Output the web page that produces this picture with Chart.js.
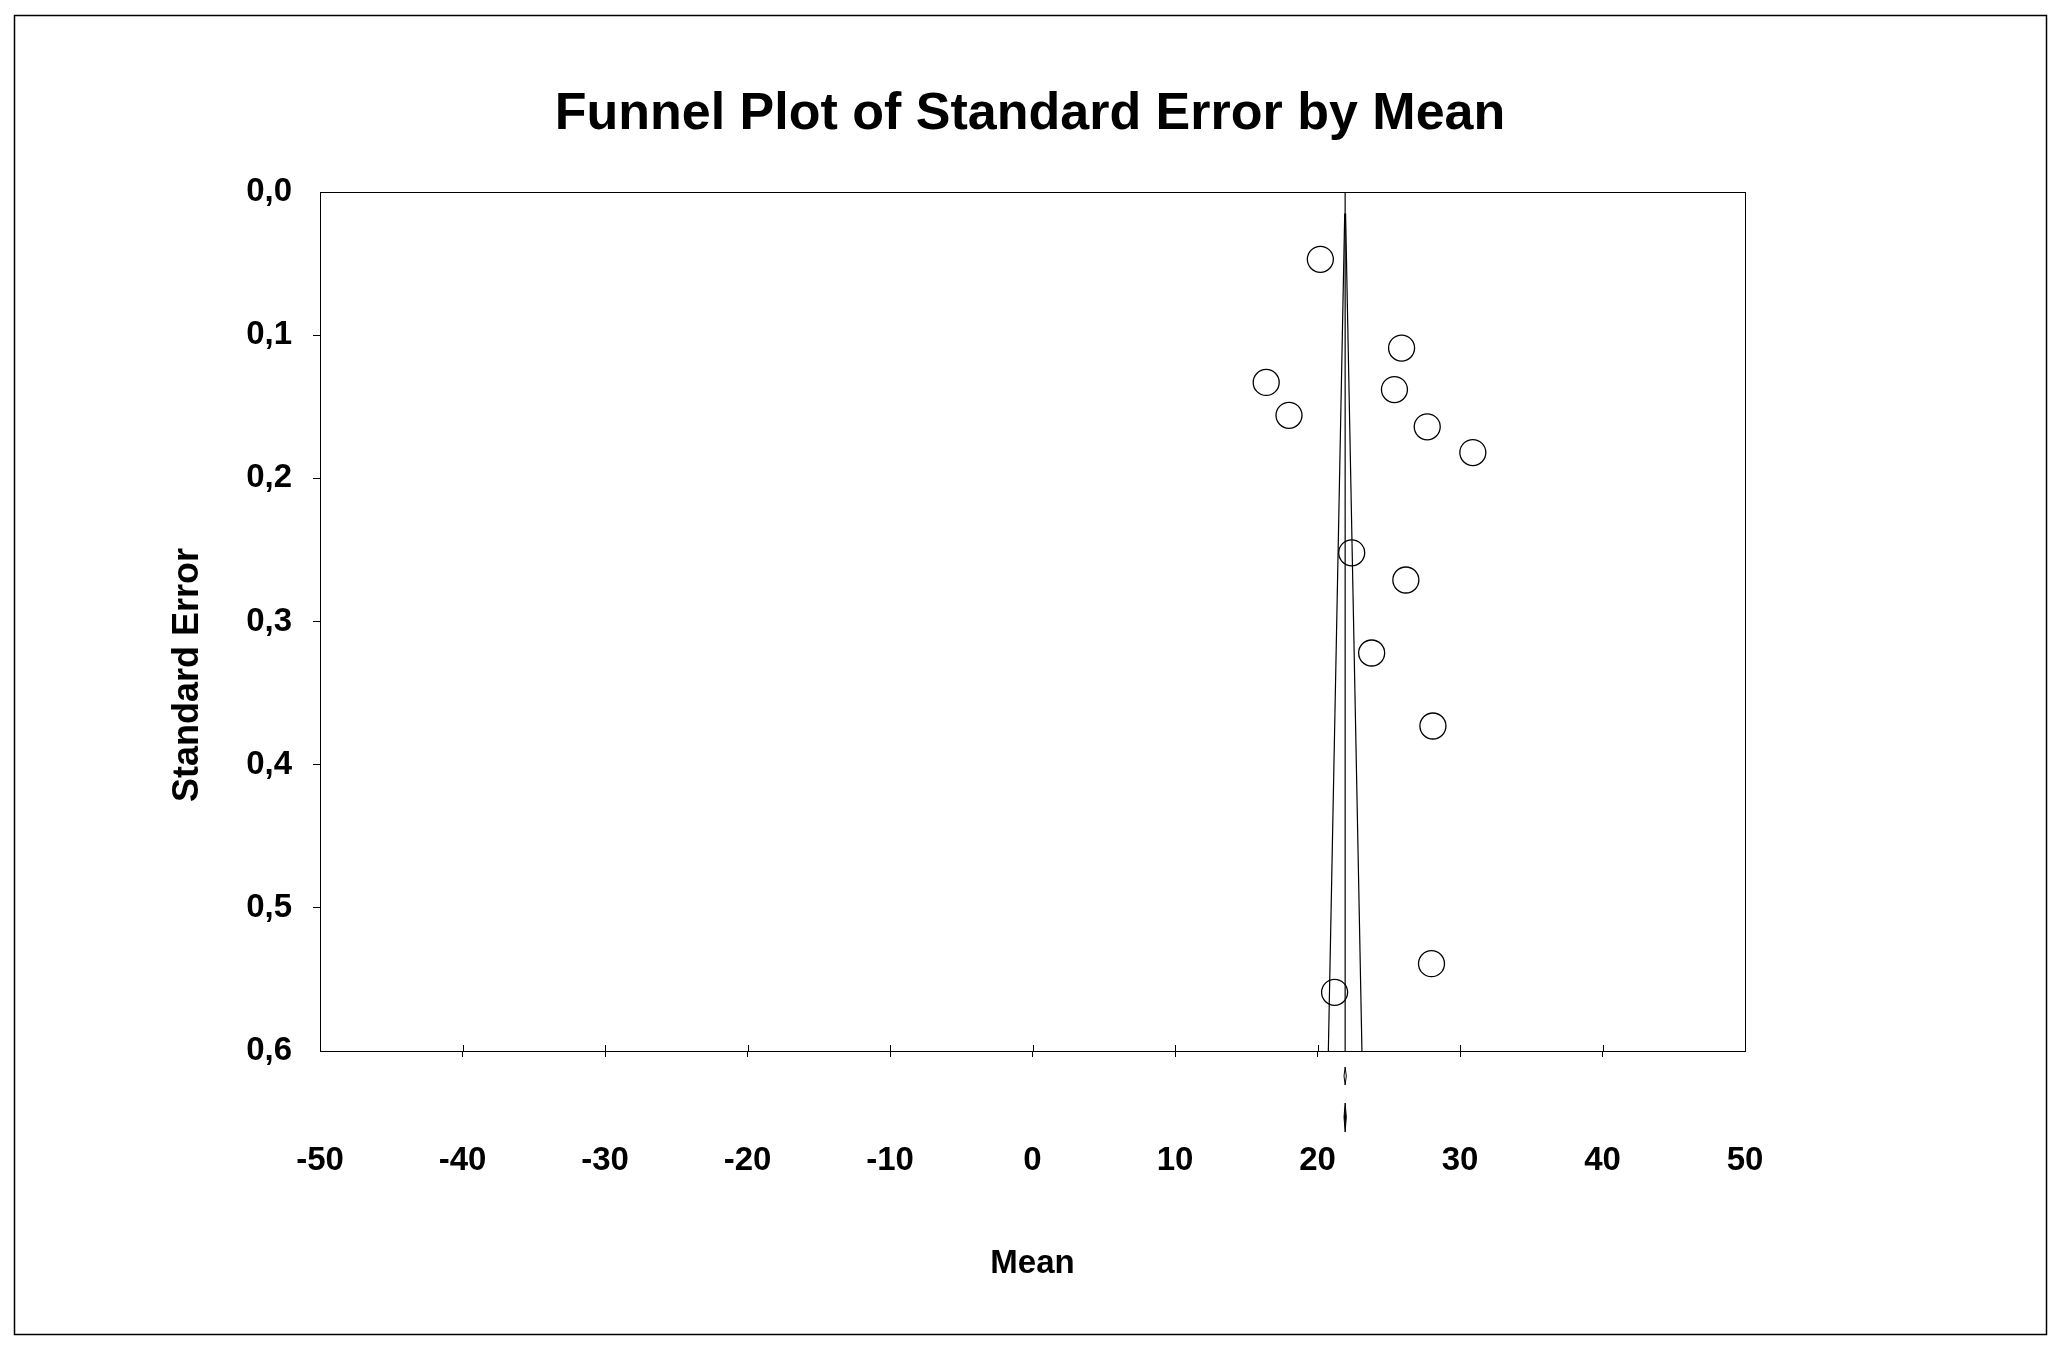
<!DOCTYPE html>
<html>
<head>
<meta charset="utf-8">
<script src="https://cdn.jsdelivr.net/npm/chart.js@4.4.1/dist/chart.umd.min.js"></script>
<style>
  html, body { margin: 0; padding: 0; background: #fff; }
  #wrap { width: 2060px; height: 1350px; }
</style>
</head>
<body>
<div id="wrap"><canvas id="chart" width="2060" height="1350"></canvas></div>
<script>
// study values
const studyMeans = [20.2, 25.9, 16.4, 18.0, 25.4, 27.7, 30.9, 22.4, 26.2, 23.8, 28.1, 28.0, 21.2];
const studySE = [0.047, 0.109, 0.133, 0.156, 0.138, 0.164, 0.182, 0.252, 0.271, 0.322, 0.373, 0.539, 0.559];

// combined effect and funnel limits
const combinedMean = 21.94;
const combinedLow = 21.86;
const combinedHigh = 22.02;
const meanLineSE = [0, 0.6];
const funnelSE = [0.015, 0.6];
const funnelLower = [21.91, 20.76];
const funnelUpper = [21.97, 23.12];

const xTicks = [-50, -40, -30, -20, -10, 0, 10, 20, 30, 40, 50];
const yTicks = [0, 0.1, 0.2, 0.3, 0.4, 0.5, 0.6];

const FONT = '"Liberation Sans", Arial, Helvetica, sans-serif';

const toPoints = (xs, ys) => xs.map((x, i) => ({ x: x, y: ys[i] }));

const edgeTick = (ctx) => {
    const v = ctx.tick ? ctx.tick.value : null;
    return (v === ctx.scale.min || v === ctx.scale.max) ? 'rgba(0,0,0,0)' : '#000';
};

const framePlugin = {
    id: 'frame',
    beforeDraw(chart) {
        const c = chart.ctx;
        c.save();
        c.fillStyle = '#fff';
        c.fillRect(0, 0, chart.width, chart.height);
        c.restore();
    },
    afterDraw(chart) {
        const c = chart.ctx;
        const a = chart.chartArea;
        const xs = chart.scales.x;
        c.save();
        c.strokeStyle = '#000';
        // outer box
        c.lineWidth = 1.5;
        c.strokeRect(14.5, 15.5, 2032, 1319);
        // plot frame
        c.lineWidth = 1;
        c.strokeRect(Math.round(a.left) + 0.5, Math.round(a.top) + 0.5,
            Math.round(a.right - a.left), Math.round(a.bottom - a.top));
        // inner half of x ticks
        xs.ticks.forEach((t) => {
            if (t.value === xs.min || t.value === xs.max) return;
            const px = Math.round(xs.getPixelForValue(t.value)) + 0.5;
            c.beginPath();
            c.moveTo(px, a.bottom - 6);
            c.lineTo(px, a.bottom);
            c.stroke();
        });
        // combined effect diamonds under the axis
        const lo = xs.getPixelForValue(combinedLow);
        const hi = xs.getPixelForValue(combinedHigh);
        const mid = xs.getPixelForValue(combinedMean);
        c.beginPath();
        c.moveTo(lo, a.bottom + 25);
        c.lineTo(mid, a.bottom + 16);
        c.lineTo(hi, a.bottom + 25);
        c.lineTo(mid, a.bottom + 34);
        c.closePath();
        c.stroke();
        c.beginPath();
        c.moveTo(lo, a.bottom + 66);
        c.lineTo(mid, a.bottom + 52);
        c.lineTo(hi, a.bottom + 66);
        c.lineTo(mid, a.bottom + 81);
        c.closePath();
        c.fillStyle = '#000';
        c.fill();
        c.stroke();
        // y axis title
        c.translate(188, 675);
        c.rotate(-Math.PI / 2);
        c.font = 'bold 36px ' + FONT;
        c.textAlign = 'center';
        c.textBaseline = 'middle';
        c.fillStyle = '#000';
        c.fillText('Standard Error', 0, 0);
        c.restore();
    }
};

Chart.defaults.color = '#000';
Chart.defaults.font.family = FONT;

new Chart(document.getElementById('chart'), {
    type: 'scatter',
    data: {
        datasets: [
            {
                label: 'Studies',
                data: toPoints(studyMeans, studySE),
                pointStyle: 'circle',
                pointRadius: 13,
                pointBorderWidth: 1.3,
                pointBorderColor: '#000',
                pointBackgroundColor: 'rgba(0,0,0,0)',
                showLine: false
            },
            {
                label: 'Mean',
                data: toPoints([combinedMean, combinedMean], meanLineSE),
                showLine: true,
                borderColor: '#000',
                borderWidth: 1.2,
                pointRadius: 0
            },
            {
                label: 'Lower limit',
                data: toPoints(funnelLower, funnelSE),
                showLine: true,
                borderColor: '#000',
                borderWidth: 1.2,
                pointRadius: 0
            },
            {
                label: 'Upper limit',
                data: toPoints(funnelUpper, funnelSE),
                showLine: true,
                borderColor: '#000',
                borderWidth: 1.2,
                pointRadius: 0
            }
        ]
    },
    options: {
        responsive: false,
        animation: false,
        layout: { padding: 0 },
        plugins: {
            legend: { display: false },
            tooltip: { enabled: false },
            title: {
                display: true,
                text: 'Funnel Plot of Standard Error by Mean',
                color: '#000',
                font: { size: 52, weight: 'bold', family: FONT, lineHeight: 1.2 },
                padding: { top: 83, bottom: 46.6 }
            }
        },
        scales: {
            x: {
                type: 'linear',
                min: -50,
                max: 50,
                afterBuildTicks: (scale) => { scale.ticks = xTicks.map((v) => ({ value: v })); },
                afterFit: (scale) => { scale.height = 299; },
                border: { display: false },
                grid: { drawOnChartArea: false, drawTicks: true, tickLength: 6, color: edgeTick, lineWidth: 1 },
                ticks: {
                    padding: 84,
                    maxRotation: 0,
                    font: { size: 33, weight: 'bold', family: FONT },
                    callback: (v) => String(v)
                },
                title: {
                    display: true,
                    text: 'Mean',
                    font: { size: 33, weight: 'bold', family: FONT },
                    padding: { top: 0, bottom: 66 }
                }
            },
            y: {
                type: 'linear',
                reverse: true,
                min: 0,
                max: 0.6,
                afterBuildTicks: (scale) => { scale.ticks = yTicks.map((v) => ({ value: v })); },
                afterFit: (scale) => { scale.width = 320; },
                border: { display: false },
                grid: { drawOnChartArea: false, drawTicks: true, tickLength: 7, color: edgeTick, lineWidth: 1 },
                ticks: {
                    padding: 21,
                    font: { size: 33, weight: 'bold', family: FONT },
                    callback: (v) => Number(v).toFixed(1).replace('.', ',')
                }
            },
            // empty right-hand axis, only reserves the margin right of the plot
            yRight: {
                type: 'linear',
                position: 'right',
                min: 0,
                max: 1,
                afterFit: (scale) => { scale.width = 315; },
                border: { display: false },
                grid: { display: false, drawTicks: false },
                ticks: { display: false }
            }
        }
    },
    plugins: [framePlugin]
});
</script>
</body>
</html>
